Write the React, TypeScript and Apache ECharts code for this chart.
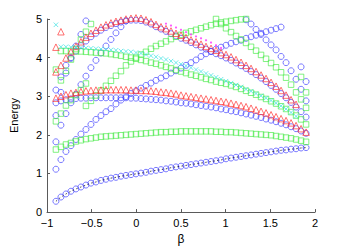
import React, { useEffect, useRef } from "react";
import * as echarts from "echarts";

// beta grid (51 samples)
const xs = [
  -0.9, -0.844, -0.788, -0.732, -0.676, -0.62, -0.564, -0.508, -0.452, -0.396,
  -0.34, -0.284, -0.228, -0.172, -0.116, -0.06, -0.004, 0.052, 0.108, 0.164,
  0.22, 0.276, 0.332, 0.388, 0.444, 0.5, 0.556, 0.612, 0.668, 0.724,
  0.78, 0.836, 0.892, 0.948, 1.004, 1.06, 1.116, 1.172, 1.228, 1.284,
  1.34, 1.396, 1.452, 1.508, 1.564, 1.62, 1.676, 1.732, 1.788, 1.844,
  1.9,
];

const xTicks = [-1, -0.5, 0, 0.5, 1, 1.5, 2];
const yTicks = [0, 1, 2, 3, 4, 5];

// blue circles
const blueLowest = [
  0.28, 0.39, 0.47, 0.54, 0.6, 0.65, 0.7, 0.75, 0.78, 0.82,
  0.85, 0.88, 0.9, 0.93, 0.95, 0.97, 0.99, 1.01, 1.03, 1.06,
  1.08, 1.1, 1.12, 1.15, 1.17, 1.19, 1.21, 1.23, 1.25, 1.27,
  1.29, 1.31, 1.33, 1.35, 1.38, 1.4, 1.42, 1.44, 1.46, 1.48,
  1.5, 1.52, 1.54, 1.56, 1.58, 1.6, 1.61, 1.63, 1.64, 1.66,
  1.67,
];
const blueRising = [
  1.11, 1.36, 1.57, 1.72, 1.88, 2.02, 2.14, 2.27, 2.4, 2.5,
  2.6, 2.68, 2.8, 2.9, 2.99, 3.07, 3.14, 3.21, 3.28, 3.34,
  3.41, 3.47, 3.53, 3.6, 3.66, 3.73, 3.8, 3.87, 3.94, 4.03,
  4.1, 4.16, 4.22, 4.27, 4.32, 4.37, 4.41, 4.45, 4.5, 4.54,
  4.58, 4.63, 4.67, 4.71, 4.75, 4.79,
];
const blueSteep1 = [1.82, 2.25, 2.55, 2.83, 3.05, 3.3, 3.52, 3.74, 3.93, 4.12, 4.3, 4.47, 4.64, 4.8, 4.95];
const blueSteep2 = [2.5, 3.1, 3.6, 3.98, 4.3, 4.6, 4.95];
const blueUpper = [
  3.16, 3.5, 3.8, 4.0, 4.17, 4.31, 4.43, 4.54, 4.63, 4.71,
  4.78, 4.83, 4.88, 4.92, 4.95, 4.97, 4.97, 4.96, 4.92, 4.87,
  4.8, 4.74, 4.68, 4.62, 4.56, 4.5, 4.45, 4.39, 4.33, 4.27,
  4.22, 4.16, 4.1, 4.05, 3.99, 3.93, 3.86, 3.79, 3.72, 3.64,
  3.56, 3.47, 3.38, 3.28, 3.18, 3.07, 2.96, 2.84, 2.72, 2.6,
  2.46,
];
const blueFallingStart = 38;
const blueFalling = [4.98, 4.87, 4.73, 4.6, 4.46, 4.33, 4.2, 4.03, 3.87, 3.66, 3.44, 3.18, 2.88];
const blueEdgeStart = 49;
const blueEdge = [3.76, 3.38];
const blueLower = [
  2.83, 2.88, 2.91, 2.93, 2.94, 2.95, 2.95, 2.96, 2.96, 2.96,
  2.96, 2.96, 2.96, 2.96, 2.96, 2.95, 2.95, 2.94, 2.93, 2.92,
  2.91, 2.9, 2.88, 2.87, 2.85, 2.83, 2.82, 2.8, 2.78, 2.76,
  2.74, 2.72, 2.7, 2.67, 2.65, 2.62, 2.6, 2.57, 2.54, 2.51,
  2.48, 2.45, 2.41, 2.38, 2.34, 2.3, 2.26, 2.21, 2.16, 2.1,
  2.04,
];

// red triangles
const redUpper = [
  3.63, 3.8, 3.99, 4.15, 4.29, 4.41, 4.53, 4.63, 4.71, 4.79,
  4.85, 4.9, 4.94, 4.97, 5.0, 5.02, 5.03, 5.02, 4.98, 4.93,
  4.86, 4.8, 4.75, 4.69, 4.63, 4.58, 4.52, 4.46, 4.41, 4.35,
  4.29, 4.24, 4.19, 4.13, 4.08, 4.02, 3.95, 3.88, 3.8, 3.72,
  3.64, 3.55, 3.46, 3.36, 3.26, 3.15, 3.03, 2.91, 2.79,
];
const redLower = [
  2.95, 3.0, 3.04, 3.08, 3.1, 3.12, 3.14, 3.15, 3.16, 3.16,
  3.17, 3.17, 3.17, 3.17, 3.17, 3.16, 3.16, 3.15, 3.15, 3.14,
  3.13, 3.11, 3.1, 3.08, 3.06, 3.03, 3.01, 2.99, 2.97, 2.95,
  2.93, 2.91, 2.89, 2.87, 2.85, 2.82, 2.79, 2.76, 2.73, 2.69,
  2.65, 2.61, 2.57, 2.52, 2.47, 2.42, 2.37, 2.31, 2.24, 2.16,
  2.07,
];
const redSteep = [4.27, 4.67];

// cyan crosses
const cyanLevel = [
  4.85, 4.28, 4.28, 4.27, 4.27, 4.26, 4.25, 4.24, 4.23, 4.22,
  4.21, 4.2, 4.19, 4.17, 4.16, 4.15, 4.13, 4.11, 4.08, 4.05,
  4.02, 3.98, 3.95, 3.91, 3.87, 3.83, 3.79, 3.74, 3.69, 3.64,
  3.59, 3.54, 3.49, 3.44, 3.39, 3.34, 3.29, 3.24, 3.18, 3.13,
  3.07, 3.01, 2.95, 2.89, 2.82, 2.75, 2.67, 2.58, 2.48,
];

// green squares
const greenLow = [
  1.62, 1.69, 1.75, 1.79, 1.83, 1.86, 1.89, 1.91, 1.93, 1.95,
  1.96, 1.97, 1.98, 1.99, 2.0, 2.01, 2.02, 2.03, 2.04, 2.05,
  2.06, 2.07, 2.07, 2.08, 2.08, 2.09, 2.09, 2.09, 2.09, 2.09,
  2.09, 2.09, 2.08, 2.08, 2.07, 2.07, 2.06, 2.05, 2.04, 2.03,
  2.02, 2.01, 2.0, 1.99, 1.97, 1.95, 1.93, 1.91, 1.88, 1.85,
  1.82,
];
const greenMidStart = 1;
const greenMid = [
  4.17, 4.17, 4.17, 4.16, 4.16, 4.15, 4.14, 4.13, 4.12,
  4.11, 4.09, 4.07, 4.05, 4.02, 4.0, 3.97, 3.94, 3.91, 3.87,
  3.84, 3.8, 3.76, 3.72, 3.68, 3.64, 3.6, 3.56, 3.53, 3.49,
  3.45, 3.42, 3.38, 3.35, 3.32, 3.28, 3.24, 3.19, 3.14, 3.09,
  3.04, 2.98, 2.93, 2.87, 2.81, 2.74, 2.67, 2.59, 2.5, 2.4,
  2.27,
];
const greenSteep1 = [2.35, 2.55, 2.76, 2.9, 3.03, 3.16, 3.33];
const greenSteep2 = [3.69, 3.41, 3.66, 3.95, 4.22, 4.47, 4.67, 4.87];
const greenRisingStart = 6;
const greenRising = [
  2.75, 2.88, 3.02, 3.15,
  3.27, 3.4, 3.53, 3.65, 3.8, 3.9, 4.0, 4.08, 4.15, 4.23,
  4.3, 4.36, 4.42, 4.48, 4.54, 4.59, 4.64, 4.68, 4.72, 4.76,
  4.8, 4.84, 4.88, 4.91, 4.93, 4.95, 4.97, 4.99, 5.0,
];
const greenFallingStart = 32;
const greenFalling = [5.0, 4.87, 4.76, 4.66, 4.56, 4.47, 4.38, 4.28, 4.18, 4.07, 3.97, 3.86, 3.75, 3.62, 3.48, 3.3, 3.1, 2.92, 2.7];
const greenEdgeStart = 49;
const greenEdge = [3.5, 3.1];

// magenta marks
const magentaStart = 22;
const magentaMarks = [4.88, 4.83, 4.78, 4.72, 4.66, 4.6, 4.55, 4.5, 4.45, 4.39, 4.32, 4.25];

function pts(start: number, vals: (number | null)[]) {
  const out: number[][] = [];
  vals.forEach((v, k) => {
    if (v != null && xs[start + k] != null) out.push([xs[start + k], v]);
  });
  return out;
}

const BLUE = "#3a3aff";
const GREEN = "#45ea45";
const RED = "#ff2d2d";
const CYAN = "#30e0e0";
const MAGENTA = "#ff30ff";
const FONT = "Liberation Sans, Arial, Helvetica, sans-serif";

function sc(data: number[][], symbol: string, size: number, color: string, z = 2) {
  return {
    type: "scatter",
    data,
    symbol,
    symbolSize: size,
    clip: false,
    silent: true,
    z,
    itemStyle: { color: "rgba(0,0,0,0)", borderColor: color, borderWidth: 0.85 },
  };
}

export default function App() {
  const ref = useRef<HTMLDivElement>(null);
  useEffect(() => {
    if (!ref.current) return;
    const chart = echarts.init(ref.current, null, { renderer: "svg" });
    const fmt = (v: number) => String(v).replace("-", "\u2212");
    const cross = "path://M0,0L10,10M10,0L0,10";
    chart.setOption({
      animation: false,
      backgroundColor: "#fff",
      grid: { left: 45, right: 32, top: 19, bottom: 33, containLabel: false },
      xAxis: {
        type: "value",
        min: xTicks[0],
        max: xTicks[xTicks.length - 1],
        interval: 0.5,
        axisLine: { show: true, onZero: false, lineStyle: { color: "#5a5a5a", width: 1 } },
        axisTick: { show: true, inside: true, length: 3, lineStyle: { color: "#5a5a5a" } },
        splitLine: { show: false },
        axisLabel: { color: "#000", fontSize: 11, fontFamily: FONT, margin: 5, formatter: fmt },
        name: "β",
        nameLocation: "middle",
        nameGap: 17,
        nameTextStyle: { color: "#000", fontSize: 12, fontFamily: FONT },
      },
      yAxis: {
        type: "value",
        min: yTicks[0],
        max: yTicks[yTicks.length - 1],
        interval: 1,
        axisLine: { show: true, onZero: false, lineStyle: { color: "#5a5a5a", width: 1 } },
        axisTick: { show: true, inside: true, length: 3, lineStyle: { color: "#5a5a5a" } },
        splitLine: { show: false },
        axisLabel: { color: "#000", fontSize: 11, fontFamily: FONT, margin: 5, formatter: fmt },
        name: "Energy",
        nameLocation: "middle",
        nameRotate: 90,
        nameGap: 28,
        nameTextStyle: { color: "#000", fontSize: 11, fontFamily: FONT },
      },
      series: [
        sc(pts(0, blueLowest), "circle", 6, BLUE),
        sc(pts(0, blueRising), "circle", 6, BLUE),
        sc(pts(0, blueSteep1), "circle", 6, BLUE),
        sc(pts(0, blueSteep2), "circle", 6, BLUE),
        sc(pts(0, blueUpper), "circle", 6, BLUE),
        sc(pts(blueFallingStart, blueFalling), "circle", 6, BLUE),
        sc(pts(blueEdgeStart, blueEdge), "circle", 6, BLUE),
        sc(pts(0, blueLower), "circle", 6, BLUE),
        sc(pts(0, greenLow), "rect", 5.5, GREEN),
        sc(pts(greenMidStart, greenMid), "rect", 5.5, GREEN),
        sc(pts(0, greenSteep1), "rect", 5.5, GREEN),
        sc(pts(0, greenSteep2), "rect", 5.5, GREEN),
        sc(pts(greenRisingStart, greenRising), "rect", 5.5, GREEN),
        sc(pts(greenFallingStart, greenFalling), "rect", 5.5, GREEN),
        sc(pts(greenEdgeStart, greenEdge), "rect", 5.5, GREEN),
        sc(pts(0, redUpper), "triangle", 6.5, RED, 3),
        sc(pts(0, redLower), "triangle", 6.5, RED, 3),
        sc(pts(0, redSteep), "triangle", 6.5, RED, 3),
        sc(pts(0, cyanLevel), cross, 4.5, CYAN, 3),
        {
          type: "scatter",
          data: pts(magentaStart, magentaMarks),
          symbol: "circle",
          symbolSize: 2.2,
          clip: false,
          silent: true,
          z: 4,
          itemStyle: { color: MAGENTA },
        },
        {
          type: "line",
          data: pts(0, blueLowest),
          symbol: "none",
          silent: true,
          z: 4,
          lineStyle: { color: "#222", width: 0.8, type: [1.5, 2.5] },
        },
      ],
    });
    return () => chart.dispose();
  }, []);
  return (
    <div
      ref={ref}
      style={{ position: "fixed", left: 0, top: 0, width: 347, height: 250 }}
    />
  );
}
